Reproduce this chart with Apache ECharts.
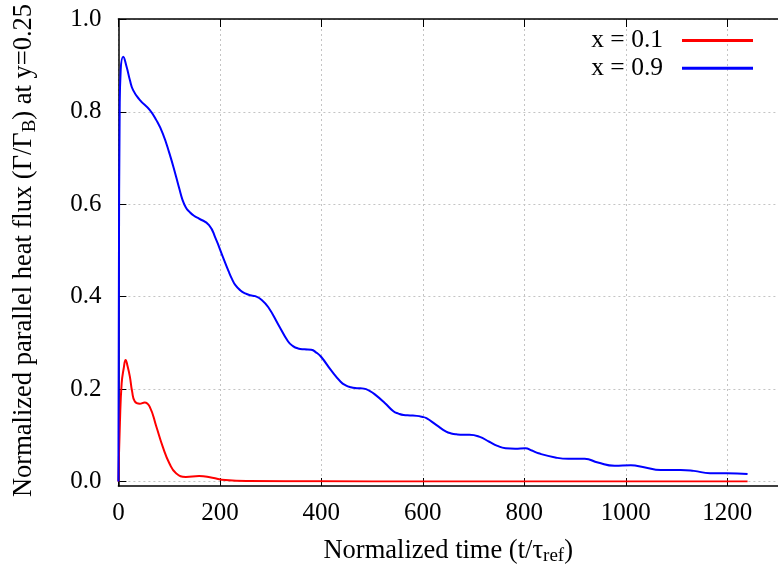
<!DOCTYPE html>
<html>
<head>
<meta charset="utf-8">
<script src="https://cdn.jsdelivr.net/npm/echarts@6/dist/echarts.min.js"></script>
<style>
html,body{margin:0;padding:0;background:#fff;}
#chart{width:778px;height:572px;}
</style>
</head>
<body>
<div id="chart"></div>
<script>
// ---- data ----
const seriesNames = ['x = 0.1', 'x = 0.9'];
const xTicks = [0, 200, 400, 600, 800, 1000, 1200];
const yTicks = [0.0, 0.2, 0.4, 0.6, 0.8, 1.0];

const redX = [0, 3, 6.4, 10.5, 14.2, 18, 22.6, 27, 32.4, 42, 51.8, 61.6, 74.7, 87.5, 100.6, 113.6, 133, 159, 185, 211, 257, 400, 600, 1240];
const redY = [0, 0.127, 0.212, 0.245, 0.263, 0.25, 0.227, 0.195, 0.173, 0.168, 0.171, 0.162, 0.119, 0.075, 0.039, 0.018, 0.010, 0.012, 0.008, 0.003, 0.001, 0.0005, 0.0, 0.0];

const blueX = [0, 1, 2.5, 4.5, 9.5, 16, 22.6, 29, 42, 61.6, 74.7, 87.5, 100.6, 113.6, 120, 126.5, 133, 139.6, 149, 159, 178.6, 191.6, 204.5, 217.5, 224, 230.6, 240, 250, 260, 269.6, 282.5, 295.5, 315, 334.5, 344, 354, 367, 380, 390, 399.4, 419, 438, 448, 458, 470, 484, 495, 506, 525, 542, 552, 562, 575, 588, 598, 607, 627, 646, 656, 666, 680, 692, 711, 731, 747, 763, 782, 802, 815, 828, 861, 887, 919, 945, 978, 1010, 1036, 1069, 1108, 1134, 1166, 1199, 1240];
const blueY = [0, 0.45, 0.80, 0.89, 0.919, 0.898, 0.869, 0.847, 0.826, 0.804, 0.782, 0.753, 0.710, 0.660, 0.634, 0.609, 0.593, 0.584, 0.575, 0.569, 0.555, 0.526, 0.490, 0.454, 0.438, 0.425, 0.414, 0.407, 0.403, 0.401, 0.393, 0.377, 0.340, 0.303, 0.293, 0.288, 0.286, 0.285, 0.279, 0.270, 0.241, 0.216, 0.208, 0.204, 0.202, 0.201, 0.196, 0.188, 0.170, 0.152, 0.147, 0.144, 0.143, 0.142, 0.140, 0.137, 0.122, 0.108, 0.104, 0.102, 0.101, 0.101, 0.097, 0.086, 0.077, 0.072, 0.071, 0.072, 0.067, 0.061, 0.052, 0.049, 0.049, 0.041, 0.034, 0.035, 0.031, 0.025, 0.025, 0.023, 0.018, 0.018, 0.016];

const zip = (xs, ys) => xs.map((x, i) => [x, ys[i]]);

const FONT = "'Liberation Serif', 'Times New Roman', serif";
const gridLine = { show: true, lineStyle: { color: '#c4c4c4', width: 1, type: [2, 3] } };
const frameLine = { show: true, lineStyle: { color: '#000', width: 1.5 } };
const tick = { show: true, inside: true, length: 8, lineStyle: { color: '#000', width: 1 } };
const titleRich = {
  a: { fontFamily: FONT, fontSize: 26.5, color: '#000' },
  sub: { fontFamily: FONT, fontSize: 19, color: '#000', padding: [11, 0, 0, 0] }
};

const chart = echarts.init(document.getElementById('chart'), null, { renderer: 'canvas' });
chart.setOption({
  animation: false,
  backgroundColor: '#fff',
  textStyle: { fontFamily: FONT },
  grid: [
    { left: 118.4, width: 666.6, top: 19.4, bottom: 90.5, containLabel: false },
    { left: 118.4, width: 666.6, top: 19, bottom: 86, containLabel: false }
  ],
  legend: {
    orient: 'vertical',
    right: 25,
    top: 27.5,
    padding: 0,
    align: 'right',
    itemWidth: 71,
    itemHeight: 3,
    itemGap: 1.7,
    icon: 'rect',
    data: seriesNames,
    textStyle: { fontFamily: FONT, fontSize: 25.5, color: '#000', lineHeight: 25, padding: [0, 14, 0, 0] }
  },
  xAxis: [
    { gridIndex: 0, type: 'value', min: 0, max: 1300, show: false },
    {
      gridIndex: 1, type: 'value', position: 'bottom', min: 0, max: 1300, interval: 200,
      axisLine: frameLine,
      axisTick: tick,
      axisLabel: { margin: 15, fontFamily: FONT, fontSize: 25, color: '#000',
        customValues: xTicks, formatter: v => String(v) },
      splitLine: gridLine,
      name: '{a|Normalized time (t/τ}{sub|ref}{a|)}',
      nameLocation: 'middle',
      nameGap: 50,
      nameTextStyle: { rich: titleRich }
    },
    {
      gridIndex: 1, type: 'value', position: 'top', min: 0, max: 1300, interval: 200,
      axisLine: frameLine,
      axisTick: tick,
      axisLabel: { show: false },
      splitLine: { show: false }
    }
  ],
  yAxis: [
    {
      gridIndex: 0, type: 'value', min: 0, max: 1, interval: 0.2,
      axisLine: { show: false },
      axisTick: tick,
      axisLabel: { margin: 17, fontFamily: FONT, fontSize: 25, color: '#000',
        customValues: yTicks, formatter: v => v.toFixed(1) },
      splitLine: gridLine,
      name: '{a|Normalized parallel heat flux (Γ/Γ}{sub|B}{a|) at y=0.25}',
      nameLocation: 'middle',
      nameGap: 79,
      nameTextStyle: { rich: titleRich }
    },
    {
      gridIndex: 1, type: 'value', position: 'left', min: 0, max: 1,
      axisLine: frameLine,
      axisTick: { show: false },
      axisLabel: { show: false },
      splitLine: { show: false }
    }
  ],
  series: [
    {
      name: seriesNames[0], type: 'line', xAxisIndex: 0, yAxisIndex: 0,
      data: zip(redX, redY), showSymbol: false, smooth: 0.5,
      lineStyle: { color: '#ff0000', width: 2 }, itemStyle: { color: '#ff0000' }
    },
    {
      name: seriesNames[1], type: 'line', xAxisIndex: 0, yAxisIndex: 0,
      data: zip(blueX, blueY), showSymbol: false, smooth: 0.5,
      lineStyle: { color: '#0000ff', width: 2 }, itemStyle: { color: '#0000ff' }
    }
  ]
});
</script>
</body>
</html>
